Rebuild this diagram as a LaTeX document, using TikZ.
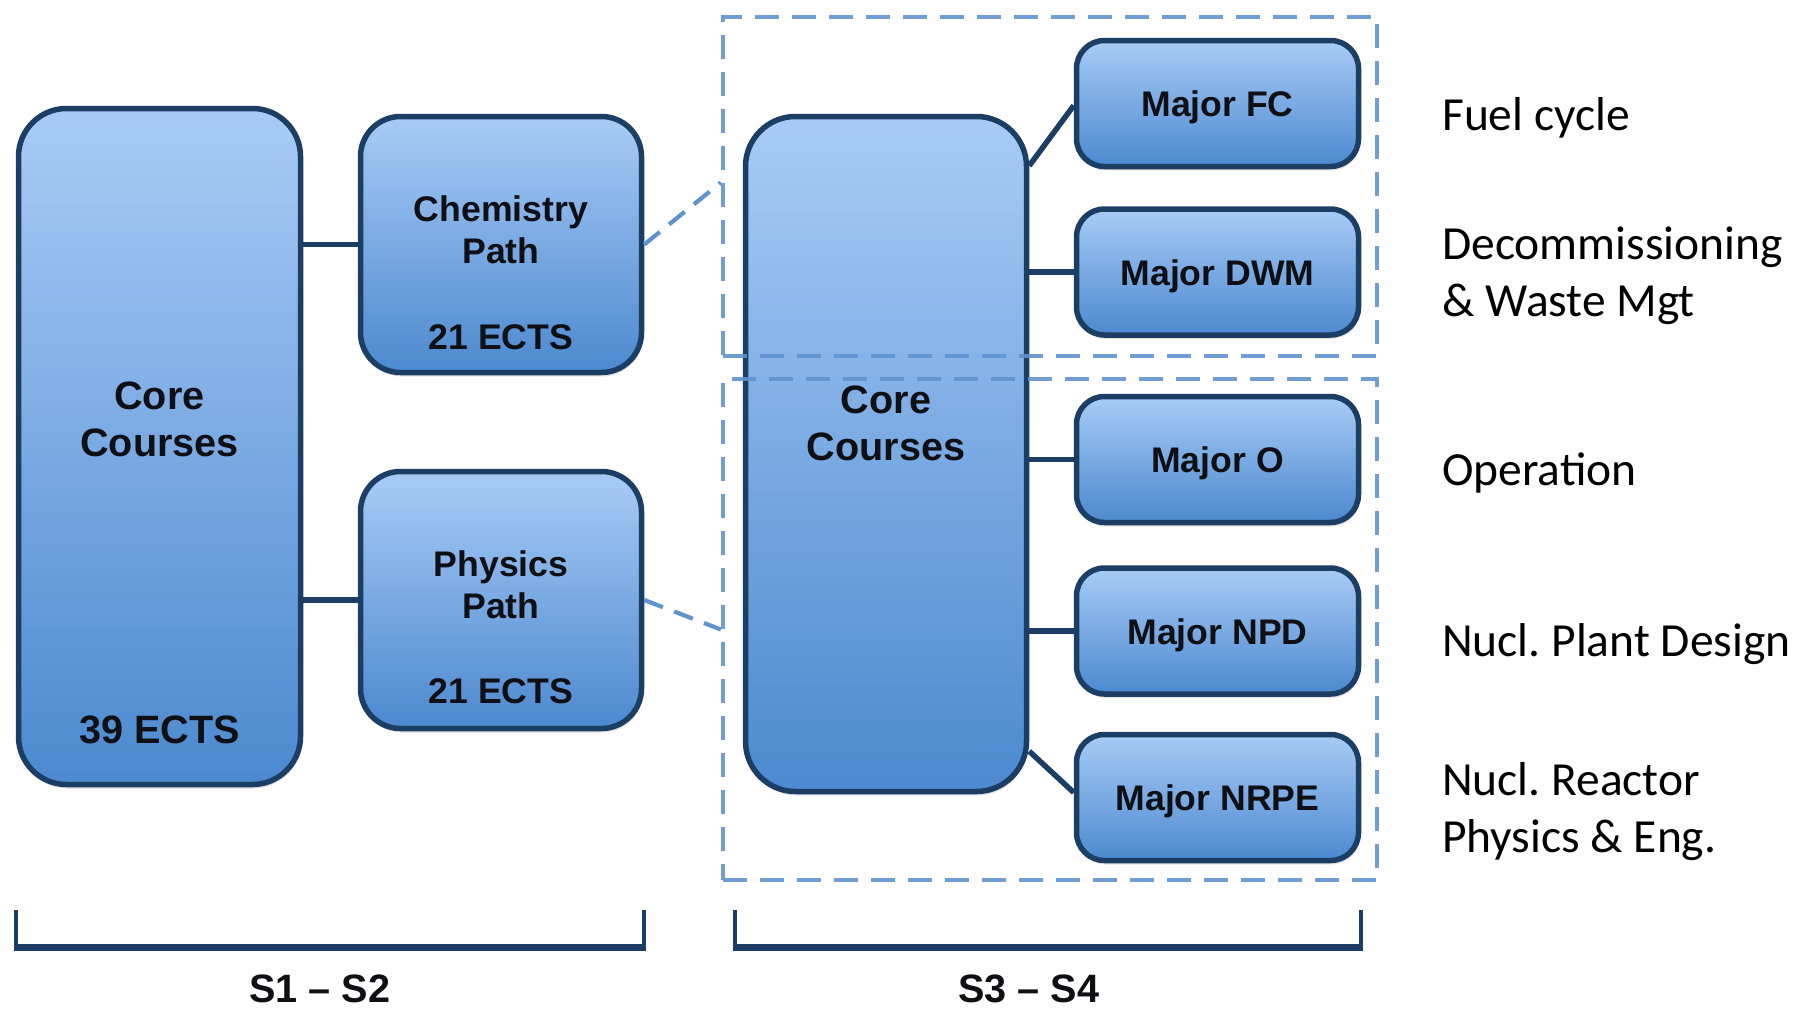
\documentclass[tikz,border=0pt]{standalone}
\usepackage{fontspec}
\setmainfont{Liberation Sans}
\newfontfamily\carlito{Carlito}
\usetikzlibrary{calc,shadows}
\definecolor{boxtop}{RGB}{168,203,246}
\definecolor{boxbot}{RGB}{76,137,207}
\definecolor{navy}{RGB}{28,62,100}
\definecolor{dashblue}{RGB}{96,146,206}
\definecolor{ink}{RGB}{15,15,20}
\frenchspacing
\begin{document}
\begin{tikzpicture}[x=1pt,y=-1pt,
  box/.style={draw=navy, line width=5.5pt, top color=boxtop, bottom color=boxbot,
    rounded corners=#1, inner sep=0pt,
    drop shadow={opacity=0.22, shadow xshift=1pt, shadow yshift=-4pt}},
  box/.default=30pt,
  major/.style={box=28pt, minimum width=282pt, minimum height=126pt,
    font=\bfseries\fontsize{35.6}{42}\selectfont, text=ink, text height=26pt, text depth=0pt},
  bigtxt/.style={font=\bfseries\fontsize{39.6}{47}\selectfont, text=ink, align=center, inner sep=0pt},
  smalltxt/.style={font=\bfseries\fontsize{35.6}{42}\selectfont, text=ink, align=center, inner sep=0pt},
  frame/.style={draw=dashblue, line width=4.2pt, dash pattern=on 24pt off 13pt, draw opacity=0.9, inner sep=0pt},
  dashcon/.style={draw=dashblue, line width=4.2pt, dash pattern=on 20pt off 12pt},
  conn/.style={draw=navy, line width=5.5pt},
  bracket/.style={draw=navy, line width=4.5pt},
  rlabel/.style={font=\carlito\fontsize{47.5}{57}\selectfont, anchor=west, align=left, inner sep=0pt, text=black}
]
\useasboundingbox (0,0) rectangle (1799,1009);

% S1-S2 boxes
\node[box=48pt, minimum width=282pt, minimum height=676pt] (core1) at (159.5,446.5) {};
\node[box=40pt, minimum width=281pt, minimum height=256pt] (chem) at (501,244.5) {};
\node[box=40pt, minimum width=281pt, minimum height=257pt] (phys) at (501,600) {};

\node[bigtxt] (core1t) at (159.5,419) {Core\\Courses};
\node[bigtxt] (core1e) at (159.5,730) {39 ECTS};
\node[smalltxt] (chemt) at (501,230) {Chemistry\\Path};
\node[smalltxt] (cheme) at (501,337) {21 ECTS};
\node[smalltxt] (phyt) at (501,584.5) {Physics\\Path};
\node[smalltxt] (phye) at (501,691) {21 ECTS};

\draw[conn] (chem.west) -- (chem.west -| core1.east);
\draw[conn] (phys.west) -- (phys.west -| core1.east);

% S3-S4 boxes
\node[box=50pt, minimum width=281pt, minimum height=675pt] (core2) at (886,454) {};
\node[bigtxt] (core2t) at (886,423.5) {Core\\Courses};
\node[major] (fc)   at (1217.5,103.5) {Major FC};
\node[major] (dwm)  at (1217.5,272)   {Major DWM};
\node[major] (mo)   at (1217.5,459.5) {Major O};
\node[major] (npd)  at (1217.5,631)   {Major NPD};
\node[major] (nrpe) at (1217.5,797.5) {Major NRPE};

\draw[conn] ($(core2.north east)+(0,52)$) -- ($(fc.west)+(0,2)$);
\draw[conn] (dwm.west) -- (dwm.west -| core2.east);
\draw[conn] (mo.west) -- (mo.west -| core2.east);
\draw[conn] (npd.west) -- (npd.west -| core2.east);
\draw[conn] ($(core2.south east)+(0,-43)$) -- ($(nrpe.west)+(0,-5)$);

% dashed frames
\node[frame, minimum width=654pt, minimum height=339pt] (upframe) at (1050,186.5) {};
\node[frame, minimum width=654pt, minimum height=501pt] (lowframe) at (1050,629.5) {};
\draw[dashcon] (chem.east) -- ($(upframe.west)+(0,-4)$);
\draw[dashcon] (phys.east) -- (lowframe.west);

% brackets
\draw[bracket] (16,910) -- (16,947) -- (644,947) -- (644,910);
\draw[navy, line width=7pt] (14,947) -- (646,947);
\draw[bracket] (735,910) -- (735,947) -- (1361,947) -- (1361,910);
\draw[navy, line width=7pt] (733,947) -- (1363,947);
\node[bigtxt] (s12) at (320,989) {S1 \textendash{} S2};
\node[bigtxt] (s34) at (1029,989) {S3 \textendash{} S4};

% right labels
\node[rlabel] (lfc) at (1442,117.5) {Fuel cycle};
\node[rlabel] (ldwm) at (1442,276) {Decommissioning\\\& Waste Mgt};
\node[rlabel] (lo) at (1442,472.5) {Operation};
\node[rlabel] (lnpd) at (1442,644.5) {Nucl. Plant Design};
\node[rlabel] (lnrpe) at (1442,812) {Nucl. Reactor\\Physics \& Eng.};
\end{tikzpicture}
\end{document}
